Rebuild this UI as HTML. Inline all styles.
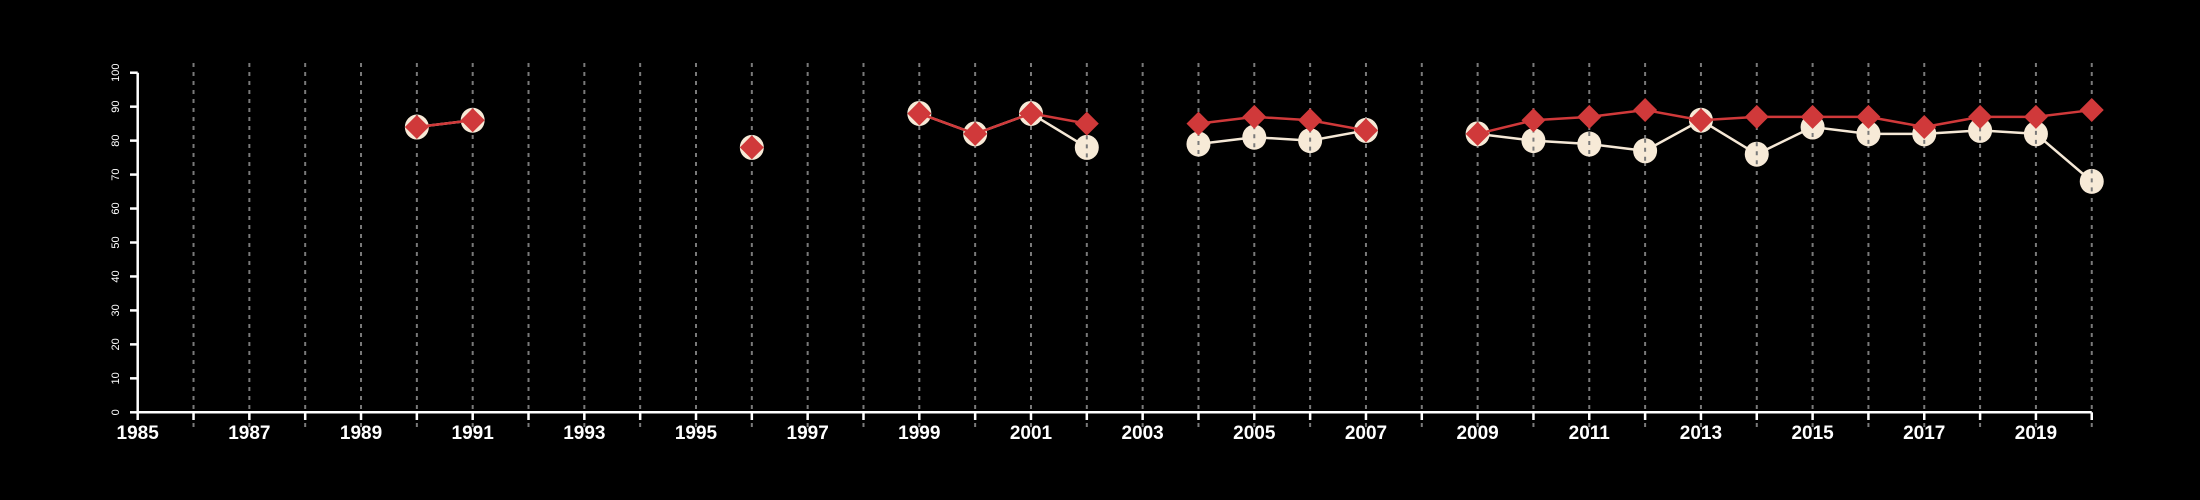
<!DOCTYPE html>
<html><head><meta charset="utf-8"><style>html,body{margin:0;padding:0;background:#000;}svg{display:block}</style></head>
<body>
<svg id="chart" width="2200" height="500" viewBox="0 0 2200 500" xmlns="http://www.w3.org/2000/svg" font-family="Liberation Sans, sans-serif">
<rect width="2200" height="500" fill="#000"/>
<g id="grid"></g>
<g id="axes"></g>
<g id="series"></g>
</svg>
<script>
const years = [1990,1991,1996,1999,2000,2001,2002,2004,2005,2006,2007,2009,2010,2011,2012,2013,2014,2015,2016,2017,2018,2019,2020];
const circleValues = [84,86,78,88,82,88,78,79,81,80,83,82,80,79,77,86,76,84,82,82,83,82,68];
const diamondValues = [84,86,78,88,82,88,85,85,87,86,83,82,86,87,89,86,87,87,87,84,87,87,89];
const yTicks = [0,10,20,30,40,50,60,70,80,90,100];
const xMin = 1985, xMax = 2020;

const NS = 'http://www.w3.org/2000/svg';
const X = y => 137.7 + (y - xMin) * 55.83;
const Y = v => 412.3 - v * 3.396;
function mk(tag, attrs, parent){const e=document.createElementNS(NS,tag);for(const k in attrs)e.setAttribute(k,attrs[k]);parent.appendChild(e);return e;}
const grid=document.getElementById('grid'), axes=document.getElementById('axes'), series=document.getElementById('series');

for(let yr=xMin+1; yr<=xMax; yr++){
  const l=mk('line',{x1:X(yr),x2:X(yr),y1:63,y2:428,stroke:'#7a7a7a','stroke-width':2,'stroke-dasharray':'4,5'},grid);
  
  
}
const xa=mk('line',{x1:X(xMin),x2:X(xMax),y1:412.3,y2:412.3,stroke:'#fff','stroke-width':2.5},axes);


for(let yr=xMin; yr<=xMax; yr++){
  const t=mk('line',{x1:X(yr),x2:X(yr),y1:412.3,y2:420,stroke:'#fff','stroke-width':2.5},axes);
  
  
  if((yr-xMin)%2===0){
    const tx=mk('text',{x:X(yr),y:439,fill:'#fff','font-size':19,'font-weight':'bold','text-anchor':'middle'},axes);
    tx.textContent=yr;
    
    
  }
}
const ya=mk('line',{x1:137.7,x2:137.7,y1:Y(0),y2:Y(100),stroke:'#fff','stroke-width':2.5},axes);


yTicks.forEach(v=>{
  const t=mk('line',{x1:130,x2:137.7,y1:Y(v),y2:Y(v),stroke:'#fff','stroke-width':2.5},axes);
  
  
  const tx=mk('text',{x:0,y:0,fill:'#fff','font-size':11,'text-anchor':'middle',transform:`translate(119,${Y(v)}) rotate(-90)`},axes);
  tx.textContent=v;
  
  
});

function drawLine(vals,color,name){
  let seg=[];
  const segs=[];
  for(let i=0;i<years.length;i++){
    if(i>0 && years[i]-years[i-1]>1){segs.push(seg);seg=[];}
    seg.push([X(years[i]),Y(vals[i])]);
  }
  segs.push(seg);
  segs.forEach((s,j)=>{
    if(s.length<2)return;
    const p=mk('polyline',{points:s.map(q=>q.join(',')).join(' '),fill:'none',stroke:color,'stroke-width':2.5},series);
    
    
  });
}
drawLine(circleValues,'#f5e8d6','circle-series');
years.forEach((yr,i)=>{
  const c=mk('ellipse',{cx:X(yr),cy:Y(circleValues[i]),rx:12,ry:12.5,fill:'#f7ead7'},series);
  
  
  const d=mk('line',{x1:X(yr),x2:X(yr),y1:Y(circleValues[i])-12,y2:Y(circleValues[i])+12,stroke:'#7a7a7a','stroke-width':2,'stroke-dasharray':'4,5'},series);
  
  
});
drawLine(diamondValues,'#d0393a','diamond-series');
years.forEach((yr,i)=>{
  const x=X(yr), y=Y(diamondValues[i]), r=12;
  const d=mk('polygon',{points:`${x},${y-r} ${x+r},${y} ${x},${y+r} ${x-r},${y}`,fill:'#d0393a'},series);
  
  
});
</script>
</body></html>
